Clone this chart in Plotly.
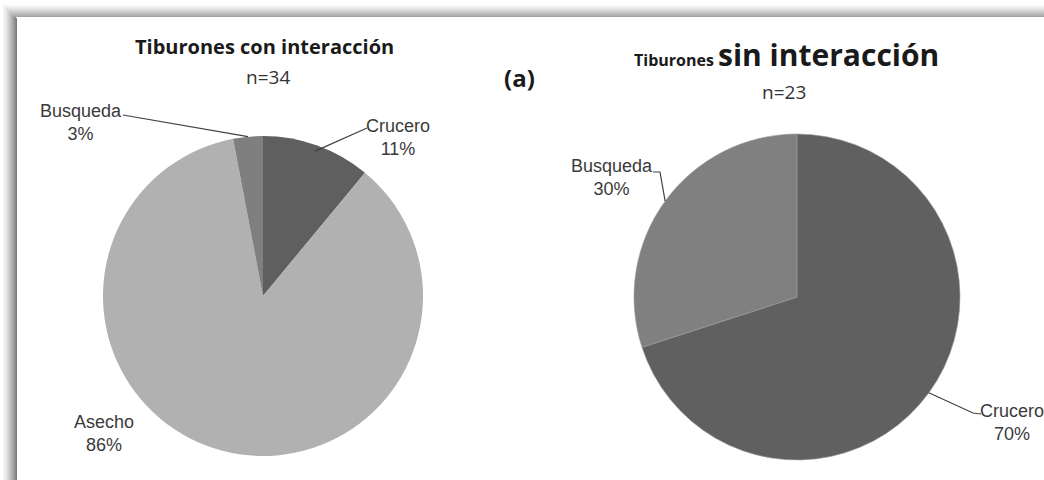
import math
import plotly.graph_objects as go

W, H = 1044, 480

# ---- data ----
left_labels = ["Crucero", "Asecho", "Busqueda"]
left_values = [11, 86, 3]
left_colors = ["#5f5f5f", "#b1b1b1", "#7f7f7f"]

right_labels = ["Crucero", "Busqueda"]
right_values = [70, 30]
right_colors = ["#606060", "#808080"]

left_title = "Tiburones con interacción"
left_n = "n=34"
right_title_small = "Tiburones"
right_title_big = "sin interacción"
right_n = "n=23"
panel_tag = "(a)"

# ---- layout geometry (pixels) ----
L_CX, L_CY, L_R = 263, 296, 160
R_CX, R_CY, R_R = 797, 297, 163


def px(x):
    return x / W


def py(y):
    return 1 - y / H


def dom(cx, cy, r):
    return dict(x=[px(cx - r), px(cx + r)], y=[py(cy + r), py(cy - r)])


def mid_point(values, idx, cx, cy, r):
    tot = sum(values)
    start = sum(values[:idx]) / tot * 360
    mid = start + values[idx] / tot * 360 / 2
    a = math.radians(mid)
    return cx + r * math.sin(a), cy - r * math.cos(a)


fig = go.Figure()
fig.add_trace(go.Pie(labels=left_labels, values=left_values, sort=False,
                     direction="clockwise", rotation=0,
                     marker=dict(colors=left_colors, line=dict(width=0)),
                     textinfo="none", hoverinfo="label+percent",
                     domain=dom(L_CX, L_CY, L_R), showlegend=False))
fig.add_trace(go.Pie(labels=right_labels, values=right_values, sort=False,
                     direction="clockwise", rotation=0,
                     marker=dict(colors=right_colors, line=dict(width=0.6, color="#9a9a9a")),
                     textinfo="none", hoverinfo="label+percent",
                     domain=dom(R_CX, R_CY, R_R), showlegend=False))

lab_font = dict(family="Liberation Sans, Arial", size=18, color="#3a3a3a")

annotations = []
shapes = []


def add_label(labels, values, idx, pos):
    annotations.append(dict(x=px(pos[0]), y=py(pos[1]), xref="paper", yref="paper",
                            text=f"{labels[idx]}<br>{values[idx]}%", showarrow=False,
                            xanchor="center", yanchor="middle", font=lab_font, align="center"))


def add_leader(points):
    d = "M " + " L ".join(f"{px(x)},{py(y)}" for x, y in points)
    shapes.append(dict(type="path", path=d, xref="paper", yref="paper",
                       line=dict(color="#404040", width=1.2)))


# left pie labels
add_label(left_labels, left_values, 0, (398, 137))
add_label(left_labels, left_values, 1, (104, 433))
add_label(left_labels, left_values, 2, (81, 123))
a = mid_point(left_values, 0, L_CX, L_CY, L_R - 6)
add_leader([a, (367, 128)])
a = mid_point(left_values, 2, L_CX, L_CY, L_R)
add_leader([a, (123, 115)])

# right pie labels
add_label(right_labels, right_values, 0, (1012, 422))
add_label(right_labels, right_values, 1, (612, 177))
a = mid_point(right_values, 0, R_CX, R_CY, R_R)
add_leader([a, (973, 413), (981, 414)])
a = mid_point(right_values, 1, R_CX, R_CY, R_R)
add_leader([a, (660, 172), (653, 172)])

title_family = "Open Sans, Lato, sans-serif"
annotations += [
    dict(x=px(264), y=py(46), xref="paper", yref="paper", showarrow=False,
         text=f"<b>{left_title}</b>", font=dict(family=title_family, size=20, color="#1a1a1a"),
         xanchor="center", yanchor="middle"),
    dict(x=px(268), y=py(77), xref="paper", yref="paper", showarrow=False,
         text=left_n, font=dict(family=title_family, size=19, color="#333333"),
         xanchor="center", yanchor="middle"),
    dict(x=px(786), y=py(54), xref="paper", yref="paper", showarrow=False,
         text=f"<b><span style='font-size:16px'>{right_title_small} </span>{right_title_big}</b>",
         font=dict(family=title_family, size=30, color="#1a1a1a"),
         xanchor="center", yanchor="middle"),
    dict(x=px(784), y=py(92), xref="paper", yref="paper", showarrow=False,
         text=right_n, font=dict(family=title_family, size=19, color="#333333"),
         xanchor="center", yanchor="middle"),
    dict(x=px(519), y=py(77), xref="paper", yref="paper", showarrow=False,
         text=f"<b>{panel_tag}</b>", font=dict(family=title_family, size=24, color="#1a1a1a"),
         xanchor="center", yanchor="middle"),
]


# frame shadow (left and top bands)
def lerp(c1, c2, t):
    return "#%02x%02x%02x" % tuple(int(c1[i] + (c2[i] - c1[i]) * t) for i in range(3))


n = 14
for i in range(n):
    t = i / (n - 1)
    col = lerp((245, 245, 245), (125, 125, 125), t ** 1.3)
    shapes.append(dict(type="rect", xref="paper", yref="paper", layer="below",
                       x0=px(3 + i), x1=px(4 + i), y0=py(H), y1=py(5 + i),
                       line=dict(width=0), fillcolor=col))
n2 = 12
for i in range(n2):
    t = i / (n2 - 1)
    col = lerp((248, 248, 248), (165, 165, 165), t ** 1.2)
    shapes.append(dict(type="rect", xref="paper", yref="paper", layer="below",
                       x0=px(3 + i), x1=px(W), y0=py(6 + i), y1=py(5 + i),
                       line=dict(width=0), fillcolor=col))

fig.update_layout(width=W, height=H, margin=dict(l=0, r=0, t=0, b=0),
                  paper_bgcolor="white", plot_bgcolor="white",
                  annotations=annotations, shapes=shapes)

fig.write_html("out.html", config={"displayModeBar": False},
               post_script="document.body.style.margin='0';document.body.style.overflow='hidden';")
